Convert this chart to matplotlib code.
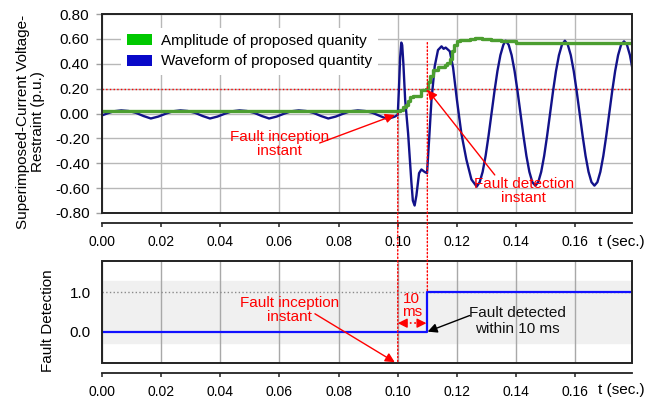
import matplotlib
matplotlib.use("Agg")
import matplotlib.pyplot as plt
from matplotlib.patches import Patch, Rectangle, ConnectionPatch
from matplotlib.ticker import FormatStrFormatter

plt.rcParams['font.family'] = ['Liberation Sans', 'DejaVu Sans']
plt.rcParams['axes.unicode_minus'] = False

# ---------------- data ----------------
# waveform of proposed quantity (p.u.)
wave_t = [0.0000, 0.0015, 0.0040, 0.0065, 0.0090, 0.0115, 0.0140, 0.0165, 0.0190,
          0.0215, 0.0240, 0.0265, 0.0290, 0.0315, 0.0340, 0.0365, 0.0390,
          0.0415, 0.0440, 0.0465, 0.0490, 0.0515, 0.0540, 0.0565, 0.0590,
          0.0615, 0.0640, 0.0665, 0.0690, 0.0715, 0.0740, 0.0765, 0.0790,
          0.0815, 0.0840, 0.0865, 0.0890, 0.0915, 0.0940, 0.0965, 0.0990,
          0.1000, 0.1004, 0.1008, 0.1012, 0.1015, 0.1019, 0.1025, 0.1035, 0.1046,
          0.1051, 0.1057, 0.1063, 0.1072, 0.1080, 0.1091, 0.1099, 0.1106, 0.1114,
          0.1125, 0.1136, 0.1148, 0.1155, 0.1162, 0.1176, 0.1187, 0.1200, 0.1215,
          0.1232, 0.1249, 0.1267,
          0.1277, 0.1287, 0.1297, 0.1307, 0.1317, 0.1327, 0.1337, 0.1347, 0.1357, 0.1365,
          0.1375, 0.1385, 0.1395, 0.1405, 0.1415, 0.1425, 0.1435, 0.1445, 0.1455, 0.1465,
          0.1475, 0.1485, 0.1495, 0.1505, 0.1515, 0.1525, 0.1535, 0.1545, 0.1555, 0.1565,
          0.1575, 0.1585, 0.1595, 0.1605, 0.1615, 0.1625, 0.1635, 0.1645, 0.1655, 0.1665,
          0.1675, 0.1685, 0.1695, 0.1705, 0.1715, 0.1725, 0.1735, 0.1745, 0.1755, 0.1765,
          0.1775, 0.1785, 0.1795]
wave_v = [-0.015, -0.002, 0.018, 0.025, 0.020, 0.005, -0.020, -0.040, -0.025,
          -0.002, 0.018, 0.025, 0.020, 0.005, -0.020, -0.040, -0.025,
          -0.002, 0.018, 0.025, 0.020, 0.005, -0.020, -0.040, -0.025,
          -0.002, 0.018, 0.025, 0.020, 0.005, -0.020, -0.040, -0.025,
          -0.002, 0.018, 0.025, 0.020, 0.005, -0.020, -0.045, -0.025,
          -0.010, 0.20, 0.45, 0.57, 0.55, 0.40, 0.11, -0.16, -0.55,
          -0.70, -0.74, -0.66, -0.48, -0.45, -0.47, -0.48, -0.21, 0.11,
          0.38, 0.51, 0.54, 0.52, 0.53, 0.50, 0.37, 0.11, -0.16,
          -0.37, -0.53, -0.588,
          -0.552, -0.469, -0.341, -0.179, 0.000, 0.179, 0.341, 0.469, 0.552, 0.585,
          0.552, 0.469, 0.341, 0.179, 0.000, -0.179, -0.341, -0.469, -0.552, -0.580,
          -0.552, -0.469, -0.341, -0.179, 0.000, 0.179, 0.341, 0.469, 0.552, 0.585,
          0.552, 0.469, 0.341, 0.179, 0.000, -0.179, -0.341, -0.469, -0.552, -0.580,
          -0.552, -0.469, -0.341, -0.179, 0.000, 0.179, 0.341, 0.469, 0.552, 0.580,
          0.552, 0.469, 0.341]

# amplitude of proposed quantity (staircase)
amp_t = [0.0000, 0.1006, 0.1018, 0.1027, 0.1035, 0.1040, 0.1051, 0.1078, 0.1095,
         0.1103, 0.1110, 0.1120, 0.1135, 0.1160, 0.1167, 0.1176, 0.1182, 0.1190,
         0.1200, 0.1210, 0.1243, 0.1262, 0.1285, 0.1315, 0.1350, 0.1400, 0.1440, 0.1800]
amp_v = [0.020, 0.030, 0.050, 0.070, 0.100, 0.130, 0.140, 0.190, 0.200,
         0.250, 0.300, 0.350, 0.370, 0.390, 0.410, 0.440, 0.500, 0.550,
         0.580, 0.590, 0.600, 0.610, 0.600, 0.590, 0.580, 0.570, 0.565, 0.565]

# fault detection signal
det_t = [0.0, 0.11, 0.18]
det_v = [0.0, 1.0, 1.0]

threshold = 0.20
t_fault = 0.10
t_detect = 0.11

x_ticks = [0.00, 0.02, 0.04, 0.06, 0.08, 0.10, 0.12, 0.14, 0.16]
x_labels = ["0.00", "0.02", "0.04", "0.06", "0.08", "0.10", "0.12", "0.14", "0.16"]
y1_ticks = [-0.8, -0.6, -0.4, -0.2, 0.0, 0.2, 0.4, 0.6, 0.8]
y2_ticks = [0.0, 1.0]
y2_labels = ["0.0", "1.0"]

FS = 11
W, H = 658, 403
fig = plt.figure(figsize=(W / 100, H / 100), dpi=100)

ax1 = fig.add_axes([102 / W, 1 - 213 / H, 530 / W, 199 / H])
ax2 = fig.add_axes([102 / W, 1 - 363 / H, 530 / W, 102 / H])

XMAX = 0.1792
for ax in (ax1, ax2):
    ax.set_xlim(0, XMAX)
    ax.set_xticks(x_ticks)
    ax.set_xticklabels(x_labels, fontsize=FS)
    for s in ('top', 'right', 'left'):
        ax.spines[s].set_visible(False)
    ax.spines['bottom'].set_position(('outward', 7.2))
    ax.spines['bottom'].set_linewidth(1.3)
    ax.spines['bottom'].set_color('#222222')
    ax.tick_params(axis='x', direction='out', length=3, width=1.1, color='#222222', pad=6)
    ax.add_patch(Rectangle((0, 0), 1, 1, transform=ax.transAxes, fill=False,
                           ec='#222222', lw=1.4, clip_on=False, zorder=6))
    ax.set_axisbelow(True)

# ---- top axes ----
ax1.set_ylim(-0.8, 0.8)
ax1.set_yticks(y1_ticks)
ax1.yaxis.set_major_formatter(FormatStrFormatter('%.2f'))
ax1.tick_params(axis='y', direction='out', length=4, width=1, color='#a0a0a0',
                labelsize=FS, pad=5)
ax1.grid(True, color='#b8b8b8', lw=1)
ax1.axhline(threshold, color='red', ls=':', lw=1, zorder=2)
ax1.plot(wave_t, wave_v, color='#12128a', lw=1.7, zorder=3)
ax1.plot(amp_t, amp_v, color='#4c9e30', lw=2.4, drawstyle='steps-post', zorder=4)

leg = ax1.legend(handles=[Patch(facecolor='#00c800', edgecolor='none'),
                          Patch(facecolor='#0808c8', edgecolor='none')],
                 labels=['Amplitude of proposed quanity', 'Waveform of proposed quantity'],
                 loc='upper left', bbox_to_anchor=(0.035, 0.93), borderaxespad=0,
                 frameon=True, fontsize=FS, handlelength=1.65, handleheight=0.72,
                 handletextpad=0.6, labelspacing=0.42, borderpad=0.4, fancybox=False)
leg.get_frame().set_facecolor('white')
leg.get_frame().set_edgecolor('none')
leg.get_frame().set_alpha(1)
leg.set_zorder(5)

ax1.text(0.060, -0.245, 'Fault inception\ninstant', color='red', fontsize=FS,
         ha='center', va='center', linespacing=1.05, zorder=7)
ax1.annotate('', xy=(0.099, -0.012), xytext=(0.0736, -0.237),
             arrowprops=dict(arrowstyle='-|>', color='red', lw=1, mutation_scale=14,
                             shrinkA=0, shrinkB=0), zorder=7)
ax1.text(0.1426, -0.623, 'Fault detection\ninstant', color='red', fontsize=FS,
         ha='center', va='center', linespacing=1.05, zorder=7)
ax1.annotate('', xy=(0.1101, 0.189), xytext=(0.1328, -0.494),
             arrowprops=dict(arrowstyle='-|>', color='red', lw=1, mutation_scale=14,
                             shrinkA=0, shrinkB=0), zorder=7)

# ---- bottom axes ----
ax2.set_ylim(-0.8, 1.8)
ax2.set_yticks(y2_ticks)
ax2.set_yticklabels(y2_labels, fontsize=FS)
ax2.tick_params(axis='y', length=0, pad=8)
ax2.grid(True, axis='x', color='#a8a8a8', lw=1)
ax2.axhspan(-0.28, 1.28, color='#f0f0f0', zorder=0)
ax2.axhline(1.0, color='#8a8a8a', ls=':', lw=1, zorder=1)
ax2.plot(det_t, det_v, color='#1010ff', lw=1.6, drawstyle='steps-post', zorder=4)

ax2.text(0.0633, 0.556, 'Fault inception\ninstant', color='red', fontsize=FS,
         ha='center', va='center', linespacing=1.05, zorder=7)
ax2.annotate('', xy=(0.099, -0.78), xytext=(0.072, 0.454),
             arrowprops=dict(arrowstyle='-|>', color='red', lw=1, mutation_scale=14,
                             shrinkA=0, shrinkB=0), zorder=7)
ax2.text(0.1047, 0.66, '10\nms', color='red', fontsize=FS, ha='center', va='center',
         linespacing=0.9, zorder=7)
ax2.plot([t_fault + 0.001, t_detect - 0.001], [0.215, 0.215], color='red', ls=':', lw=1.2, zorder=7)
ax2.annotate('', xy=(t_fault, 0.215), xytext=(t_fault + 0.003, 0.215),
             arrowprops=dict(arrowstyle='-|>', color='red', lw=1, mutation_scale=14,
                             shrinkA=0, shrinkB=0), zorder=7)
ax2.annotate('', xy=(t_detect - 0.0003, 0.215), xytext=(t_detect - 0.0033, 0.215),
             arrowprops=dict(arrowstyle='-|>', color='red', lw=1, mutation_scale=14,
                             shrinkA=0, shrinkB=0), zorder=7)
ax2.text(0.1405, 0.274, 'Fault detected\nwithin 10 ms', color='#111111', fontsize=FS,
         ha='center', va='center', linespacing=1.15, zorder=7)
ax2.annotate('', xy=(0.1101, 0.0), xytext=(0.1243, 0.41),
             arrowprops=dict(arrowstyle='-|>', color='black', lw=1, mutation_scale=14,
                             shrinkA=0, shrinkB=0), zorder=7)

# ---- vertical dotted markers crossing both panels ----
for xa, ya, yb in ((t_fault, 0.0, -0.8), (t_detect, 0.57, 1.0)):
    cp = ConnectionPatch(xyA=(xa, ya), coordsA=ax1.transData,
                         xyB=(xa, yb), coordsB=ax2.transData,
                         color='red', ls=':', lw=1, zorder=8)
    fig.add_artist(cp)

# ---- axis labels ----
fig.text(30.5 / W, 1 - 122 / H, 'Superimposed-Current Voltage-\nRestraint (p.u.)',
         rotation=90, ha='center', va='center', fontsize=FS, linespacing=1.1)
fig.text(48 / W, 1 - 321 / H, 'Fault Detection', rotation=90, ha='center',
         va='center', fontsize=FS)
fig.text(598 / W, 1 - 241.5 / H, 't (sec.)', ha='left', va='center', fontsize=FS)
fig.text(598 / W, 1 - 390 / H, 't (sec.)', ha='left', va='center', fontsize=FS)

fig.savefig('out.png', dpi=100)
